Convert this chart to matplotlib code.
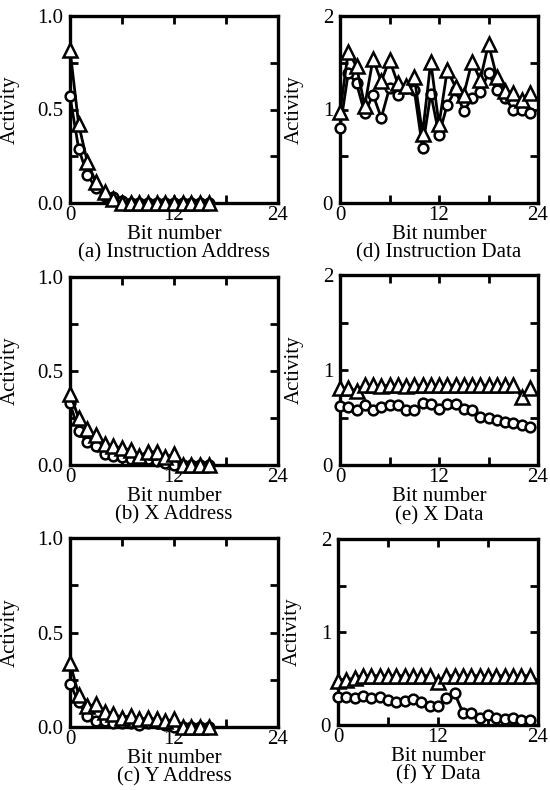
import matplotlib
matplotlib.use("Agg")
import matplotlib.pyplot as plt
import numpy as np

plt.rcParams["font.family"] = ["Liberation Serif", "DejaVu Serif"]

# bit positions
bits_addr = list(range(17))
bits_data = list(range(24))

# (a) Instruction Address
ia_tri = [0.82, 0.42, 0.22, 0.11, 0.06, 0.02, 0.0, 0.0, 0.0, 0.0, 0.0, 0.0, 0.0, 0.0, 0.0, 0.0, 0.0]
ia_circ = [0.57, 0.29, 0.15, 0.08, 0.04, 0.03, 0.01, 0.0, 0.0, 0.0, 0.0, 0.0, 0.0, 0.0, 0.0, 0.0, 0.0]

# (b) X Address
xa_tri = [0.38, 0.25, 0.19, 0.16, 0.11, 0.10, 0.09, 0.08, 0.05, 0.07, 0.07, 0.04, 0.06, 0.0, 0.0, 0.0, 0.0]
xa_circ = [0.33, 0.18, 0.12, 0.10, 0.06, 0.05, 0.04, 0.03, 0.03, 0.03, 0.02, 0.01, 0.0, 0.0, 0.0, 0.0, 0.0]

# (c) Y Address
ya_tri = [0.34, 0.17, 0.11, 0.12, 0.08, 0.07, 0.05, 0.06, 0.04, 0.05, 0.04, 0.03, 0.04, 0.0, 0.0, 0.0, 0.0]
ya_circ = [0.23, 0.13, 0.06, 0.03, 0.03, 0.02, 0.02, 0.02, 0.01, 0.02, 0.02, 0.01, 0.0, 0.0, 0.0, 0.0, 0.0]

# (d) Instruction Data
id_tri = [0.97, 1.62, 1.46, 1.04, 1.54, 1.30, 1.53, 1.28, 1.25, 1.35, 0.74, 1.51,
          0.84, 1.42, 1.24, 1.16, 1.51, 1.32, 1.70, 1.35, 1.20, 1.18, 1.10, 1.18]
id_circ = [0.80, 1.39, 1.28, 0.96, 1.16, 0.91, 1.23, 1.16, 1.23, 1.21, 0.59, 1.17,
           0.73, 1.05, 1.21, 0.98, 1.12, 1.19, 1.39, 1.21, 1.12, 1.00, 1.00, 0.96]

# (e) X Data
xd_tri = [0.81, 0.81, 0.78, 0.84, 0.84, 0.83, 0.84, 0.84, 0.83, 0.84, 0.84, 0.84,
          0.84, 0.84, 0.84, 0.84, 0.84, 0.84, 0.84, 0.84, 0.84, 0.84, 0.72, 0.81]
xd_circ = [0.62, 0.61, 0.58, 0.63, 0.58, 0.61, 0.63, 0.63, 0.58, 0.58, 0.65, 0.64,
           0.59, 0.64, 0.64, 0.59, 0.58, 0.51, 0.49, 0.47, 0.45, 0.44, 0.42, 0.40]

# (f) Y Data
yd_tri = [0.47, 0.48, 0.51, 0.53, 0.53, 0.53, 0.53, 0.53, 0.53, 0.53, 0.53, 0.53,
          0.46, 0.53, 0.53, 0.53, 0.53, 0.53, 0.53, 0.53, 0.53, 0.53, 0.53, 0.53]
yd_circ = [0.30, 0.30, 0.29, 0.31, 0.29, 0.30, 0.27, 0.25, 0.26, 0.28, 0.25, 0.20,
           0.20, 0.29, 0.34, 0.13, 0.13, 0.07, 0.11, 0.07, 0.06, 0.07, 0.05, 0.05]

panels = [
    ("(a) Instruction Address", bits_addr, ia_tri, ia_circ, 1.0, [0.0, 0.5, 1.0], ["0.0", "0.5", "1.0"]),
    ("(b) X Address", bits_addr, xa_tri, xa_circ, 1.0, [0.0, 0.5, 1.0], ["0.0", "0.5", "1.0"]),
    ("(c) Y Address", bits_addr, ya_tri, ya_circ, 1.0, [0.0, 0.5, 1.0], ["0.0", "0.5", "1.0"]),
    ("(d) Instruction Data", bits_data, id_tri, id_circ, 2.0, [0, 1, 2], ["0", "1", "2"]),
    ("(e) X Data", bits_data, xd_tri, xd_circ, 2.0, [0, 1, 2], ["0", "1", "2"]),
    ("(f) Y Data", bits_data, yd_tri, yd_circ, 2.0, [0, 1, 2], ["0", "1", "2"]),
]

# axes boxes in pixels (left, top, right, bottom) for a 550x790 figure
boxes = [(70, 16, 278, 203), (70, 277, 278, 465), (70, 538, 278, 727),
         (340, 16, 538, 203), (340, 275, 538, 465), (338, 539, 538, 725)]
ylab_x = [20, 20, 20, 304, 304, 302]

fig = plt.figure(figsize=(5.5, 7.9), dpi=100)
W, H = 550.0, 790.0

for (title, x, tri, circ, ymax, yt, ytl), (l, t, r, b), lx in zip(panels, boxes, ylab_x):
    ax = fig.add_axes([l / W, 1 - b / H, (r - l) / W, (b - t) / H])
    ax.plot(x, circ, "-", color="black", lw=2.0, marker="o", ms=7, mfc="white",
            mec="black", mew=1.8, clip_on=False, zorder=3)
    ax.plot(x, tri, "-", color="black", lw=2.0, marker="^", ms=9.5, mfc="white",
            mec="black", mew=1.8, clip_on=False, zorder=4)
    ax.set_xlim(0, 24)
    ax.set_ylim(0, ymax)
    ax.set_xticks([0, 12, 24])
    ax.set_xticks([6, 18], minor=True)
    ax.set_yticks(yt)
    ax.set_yticklabels(ytl)
    ax.set_yticks([ymax / 4, ymax * 3 / 4], minor=True)
    ax.tick_params(which="both", direction="in", top=True, right=True,
                   length=6, width=2, labelsize=15)
    ax.tick_params(axis="x", pad=2)
    ax.tick_params(axis="y", pad=5)
    for s in ax.spines.values():
        s.set_linewidth(2.4)
    ax.set_xlabel("Bit number", fontsize=15, labelpad=0)
    ax.set_ylabel("Activity", fontsize=15)
    ax.yaxis.set_label_coords((lx - l) / (r - l), 0.5)
    ax.text(0.5, -0.215, title, transform=ax.transAxes, ha="center", va="top",
            fontsize=15)

fig.savefig("out.png", dpi=100)
